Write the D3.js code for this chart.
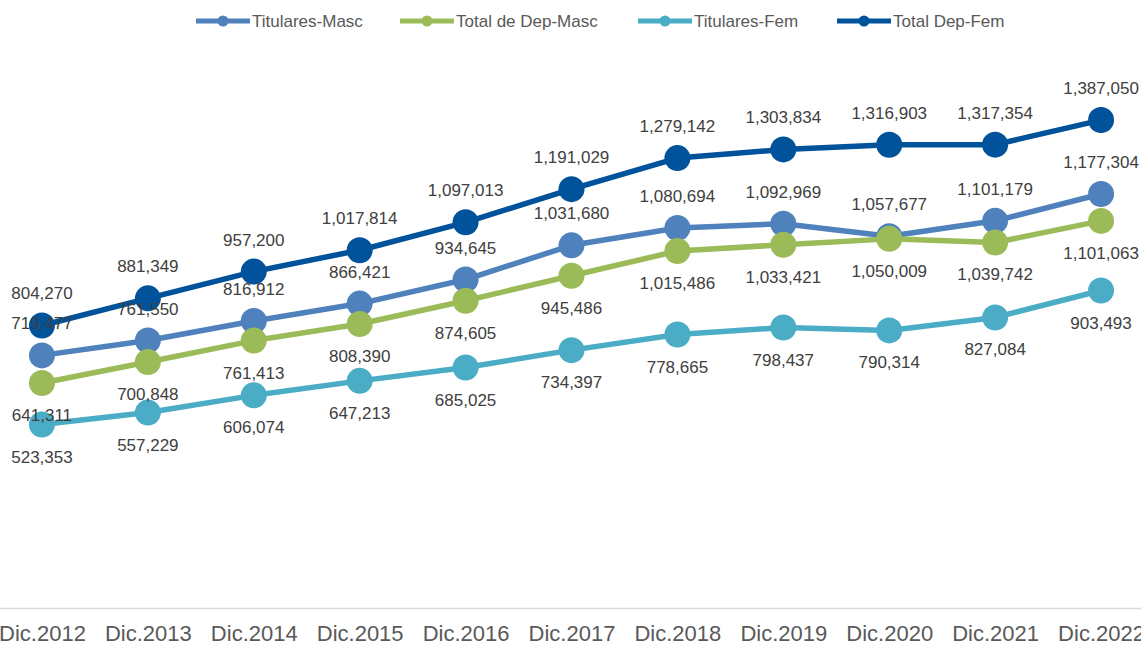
<!DOCTYPE html>
<html>
<head>
<meta charset="utf-8">
<script src="https://cdn.jsdelivr.net/npm/d3@7"></script>
<style>
  body { margin: 0; background: #fff; }
  svg { display: block; font-family: "Liberation Sans", Arial, sans-serif; }
</style>
</head>
<body>
<div id="chart"></div>
<script>
// chart data
var years = ["Dic.2012", "Dic.2013", "Dic.2014", "Dic.2015", "Dic.2016", "Dic.2017",
    "Dic.2018", "Dic.2019", "Dic.2020", "Dic.2021", "Dic.2022"];

var titularesMasc = [719477, 761550, 816912, 866421, 934645, 1031680, 1080694, 1092969, 1057677, 1101179, 1177304];
var totalDepMasc = [641311, 700848, 761413, 808390, 874605, 945486, 1015486, 1033421, 1050009, 1039742, 1101063];
var titularesFem = [523353, 557229, 606074, 647213, 685025, 734397, 778665, 798437, 790314, 827084, 903493];
var totalDepFem = [804270, 881349, 957200, 1017814, 1097013, 1191029, 1279142, 1303834, 1316903, 1317354, 1387050];

var seriesNames = ["Titulares-Masc", "Total de Dep-Masc", "Titulares-Fem", "Total Dep-Fem"];
var seriesColors = ["#4F81BD", "#9BBB59", "#4BACC6", "#00529B"];
var labelSide = ["above", "below", "below", "above"];

var svgWidth = 1141;
var svgHeight = 645;

var series = [titularesMasc, totalDepMasc, titularesFem, totalDepFem].map(function (vals, i) {
    return {
        name: seriesNames[i],
        color: seriesColors[i],
        side: labelSide[i],
        values: vals.map(function (v, j) { return { year: years[j], value: v }; })
    };
});

var svg = d3.select("#chart")
    .append("svg")
    .attr("width", svgWidth)
    .attr("height", svgHeight);

// scales
var x = d3.scalePoint()
    .domain(years)
    .range([-11, 1154])
    .padding(0.5);

var y = d3.scaleLinear()
    .domain([0, 1600000])
    .range([609, 45]);

// x axis
var xAxis = svg.append("g")
    .attr("transform", "translate(0, 608)")
    .call(d3.axisBottom(x).tickSize(0).tickPadding(17));

xAxis.select(".domain")
    .attr("stroke", "#d9d9d9")
    .attr("stroke-width", 1.5);

xAxis.selectAll("text")
    .attr("fill", "#595959")
    .style("font-size", "22px")
    .style("font-family", "Liberation Sans, Arial, sans-serif");

var line = d3.line()
    .x(function (d) { return x(d.year); })
    .y(function (d) { return y(d.value); });

// lines + markers
series.forEach(function (s) {
    var g = svg.append("g");
    g.append("path")
        .datum(s.values)
        .attr("d", line)
        .attr("fill", "none")
        .attr("stroke", s.color)
        .attr("stroke-width", 5.5)
        .attr("stroke-linejoin", "round");

    g.selectAll("circle")
        .data(s.values)
        .enter()
        .append("circle")
        .attr("cx", function (d) { return x(d.year); })
        .attr("cy", function (d) { return y(d.value); })
        .attr("r", 13)
        .attr("fill", s.color);
});

// data labels on top
var fmt = d3.format(",");
series.forEach(function (s) {
    svg.append("g")
        .selectAll("text")
        .data(s.values)
        .enter()
        .append("text")
        .attr("x", function (d) { return x(d.year); })
        .attr("y", function (d) { return y(d.value) + (s.side === "above" ? -26 : 38); })
        .attr("text-anchor", "middle")
        .attr("fill", "#404040")
        .style("font-size", "17px")
        .text(function (d) { return fmt(d.value); });
});

// legend
var legendX = [196, 400, 638, 837];
var legend = svg.append("g").attr("transform", "translate(0, 21)");
series.forEach(function (s, i) {
    var item = legend.append("g").attr("transform", `translate(${legendX[i]}, 0)`);
    item.append("line")
        .attr("x1", 0).attr("x2", 54)
        .attr("y1", 0).attr("y2", 0)
        .attr("stroke", s.color)
        .attr("stroke-width", 5);
    item.append("circle")
        .attr("cx", 27).attr("cy", 0)
        .attr("r", 5.5)
        .attr("fill", s.color);
    item.append("text")
        .attr("x", 56)
        .attr("y", 6)
        .attr("fill", "#595959")
        .style("font-size", "17px")
        .text(s.name);
});
</script>
</body>
</html>
